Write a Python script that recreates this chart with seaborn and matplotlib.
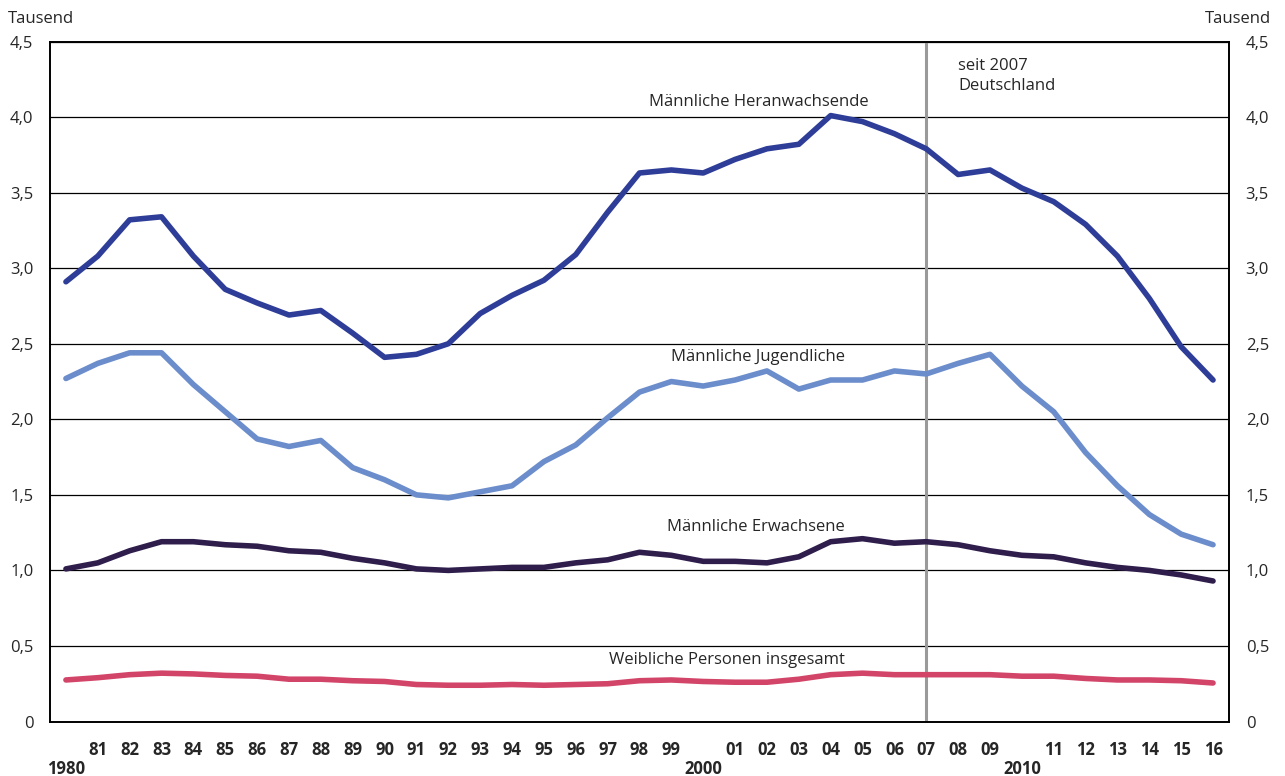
import numpy as np
import pandas as pd
import seaborn as sns
import matplotlib.pyplot as plt

years = list(range(1980, 2017))

heranwachsende = [2.91, 3.08, 3.32, 3.34, 3.08, 2.86, 2.77, 2.69, 2.72, 2.57,
                  2.41, 2.43, 2.50, 2.70, 2.82, 2.92, 3.09, 3.37, 3.63, 3.65,
                  3.63, 3.72, 3.79, 3.82, 4.01, 3.97, 3.89, 3.79, 3.62, 3.65,
                  3.53, 3.44, 3.29, 3.08, 2.80, 2.48, 2.26]
jugendliche = [2.27, 2.37, 2.44, 2.44, 2.23, 2.05, 1.87, 1.82, 1.86, 1.68,
               1.60, 1.50, 1.48, 1.52, 1.56, 1.72, 1.83, 2.01, 2.18, 2.25,
               2.22, 2.26, 2.32, 2.20, 2.26, 2.26, 2.32, 2.30, 2.37, 2.43,
               2.22, 2.05, 1.78, 1.56, 1.37, 1.24, 1.17]
erwachsene = [1.01, 1.05, 1.13, 1.19, 1.19, 1.17, 1.16, 1.13, 1.12, 1.08,
              1.05, 1.01, 1.00, 1.01, 1.02, 1.02, 1.05, 1.07, 1.12, 1.10,
              1.06, 1.06, 1.05, 1.09, 1.19, 1.21, 1.18, 1.19, 1.17, 1.13,
              1.10, 1.09, 1.05, 1.02, 1.00, 0.97, 0.93]
weibliche = [0.275, 0.29, 0.31, 0.32, 0.315, 0.305, 0.30, 0.28, 0.28, 0.27,
             0.265, 0.245, 0.24, 0.24, 0.245, 0.24, 0.245, 0.25, 0.27, 0.275,
             0.265, 0.26, 0.26, 0.28, 0.31, 0.32, 0.31, 0.31, 0.31, 0.31,
             0.30, 0.30, 0.285, 0.275, 0.275, 0.27, 0.255]

series_names = ["Männliche Heranwachsende", "Männliche Jugendliche",
                "Männliche Erwachsene", "Weibliche Personen insgesamt"]
colors = ["#2E3D98", "#6B8DCB", "#2F1D4C", "#D24468"]

y_ticks = [0, 0.5, 1.0, 1.5, 2.0, 2.5, 3.0, 3.5, 4.0, 4.5]
y_labels = ["0", "0,5", "1,0", "1,5", "2,0", "2,5", "3,0", "3,5", "4,0", "4,5"]

x_labels = ["\n1980"] + [str(y)[2:] for y in years[1:]]
x_labels[20] = "\n2000"
x_labels[30] = "\n2010"

df = pd.DataFrame({"Jahr": years,
                   series_names[0]: heranwachsende,
                   series_names[1]: jugendliche,
                   series_names[2]: erwachsene,
                   series_names[3]: weibliche})
long = df.melt(id_vars="Jahr", var_name="Gruppe", value_name="Tausend")

sns.set_style("white")
plt.rcParams["font.family"] = ["Open Sans", "DejaVu Sans"]

fig = plt.figure(figsize=(12.85, 7.76), dpi=100)
ax = fig.add_axes([0.0389, 0.0702, 0.9175, 0.8763])

# grid lines and the 2007 marker
for y in y_ticks[1:]:
    ax.axhline(y, color="black", lw=0.9, zorder=1)
ax.axvline(2007, color="#9A9A9A", lw=2.2, zorder=1.5)

sns.lineplot(data=long, x="Jahr", y="Tausend", hue="Gruppe",
             palette=dict(zip(series_names, colors)), lw=4.0,
             legend=False, ax=ax, zorder=3)

ax.set_xlim(1979.5, 2016.5)
ax.set_ylim(0, 4.5)
ax.set_xlabel("")
ax.set_ylabel("")

for s in ax.spines.values():
    s.set_color("black")
    s.set_linewidth(1.4)

ax.set_yticks(y_ticks)
ax.set_yticklabels(y_labels)
ax.tick_params(axis="y", length=0, labelsize=12, pad=12,
               labelleft=True, labelright=True)

# tick marks between the years, labels centred on the years
ax.set_xticks([y - 0.5 for y in years] + [2016.5])
ax.set_xticklabels([])
ax.tick_params(axis="x", which="major", length=6, width=1.4, direction="out",
               color="black")
ax.set_xticks(years, minor=True)
ax.set_xticklabels(x_labels, minor=True, fontweight="bold", fontsize=12,
                   linespacing=1.1)
ax.tick_params(axis="x", which="minor", length=0, pad=14)

fig.text(0.006, 0.976, "Tausend", fontsize=12, ha="left", va="center")
fig.text(0.989, 0.976, "Tausend", fontsize=12, ha="right", va="center")

ax.text(2005.2, 4.10, series_names[0], fontsize=12, ha="right", va="center")
ax.text(2004.45, 2.41, series_names[1], fontsize=12, ha="right", va="center")
ax.text(2004.45, 1.29, series_names[2], fontsize=12, ha="right", va="center")
ax.text(2004.45, 0.41, series_names[3], fontsize=12, ha="right", va="center")
ax.text(2008.0, 4.39, "seit 2007\nDeutschland", fontsize=12, ha="left",
        va="top", linespacing=1.3)

fig.savefig("out.png", dpi=100)
